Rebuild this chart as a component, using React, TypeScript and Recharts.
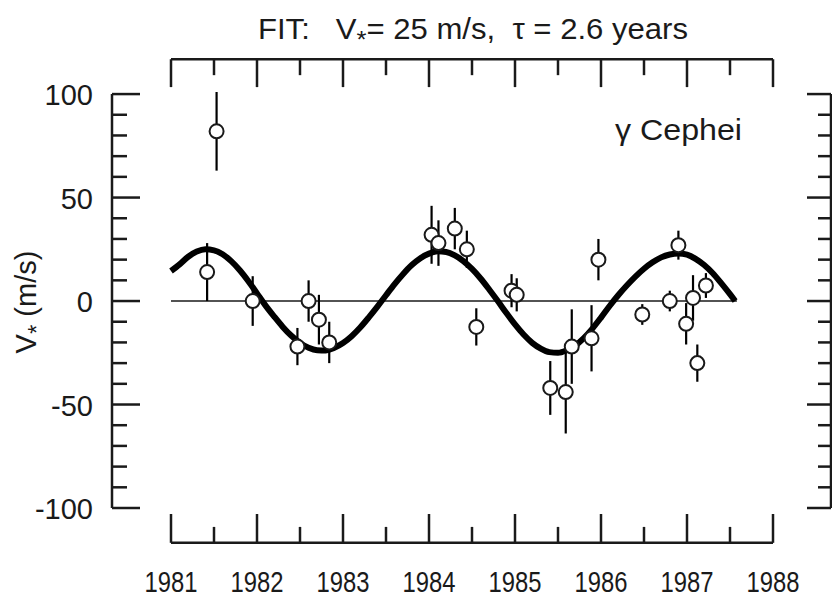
import {
  ComposedChart,
  Line,
  Scatter,
  ErrorBar,
  XAxis,
  YAxis,
  ReferenceLine,
} from "recharts";

// measured radial velocities (year, V*, 1-sigma error)
const OBS_YEARS = [
  1981.42, 1981.53, 1981.95, 1982.47, 1982.6, 1982.72, 1982.84, 1984.03, 1984.11,
  1984.3, 1984.44, 1984.55, 1984.96, 1985.02, 1985.41, 1985.59, 1985.66, 1985.89,
  1985.97, 1986.48, 1986.8, 1986.9, 1986.99, 1987.07, 1987.12, 1987.22,
];
const OBS_V = [
  14, 82, 0, -22, 0, -9, -20, 32, 28, 35, 25, -12.5, 5, 3, -42, -44, -22, -18, 20,
  -6.5, 0, 27, -11, 1.5, -30, 7.5,
];
const OBS_ERR = [
  14, 19, 12, 9, 10, 12, 10, 14, 11, 10, 9, 9, 8, 8, 13, 20, 18, 16, 10, 5, 5, 7,
  10, 11, 9, 6,
];

// fitted curve
const FIT_YEARS = [
  1981.0, 1981.1, 1981.2, 1981.3, 1981.4, 1981.5, 1981.6, 1981.7, 1981.8, 1981.9,
  1982.0, 1982.1, 1982.2, 1982.3, 1982.4, 1982.5, 1982.6, 1982.7, 1982.8, 1982.9,
  1983.0, 1983.1, 1983.2, 1983.3, 1983.4, 1983.5, 1983.6, 1983.7, 1983.8, 1983.9,
  1984.0, 1984.1, 1984.2, 1984.3, 1984.4, 1984.5, 1984.6, 1984.7, 1984.8, 1984.9,
  1985.0, 1985.1, 1985.2, 1985.3, 1985.4, 1985.5, 1985.6, 1985.7, 1985.8, 1985.9,
  1986.0, 1986.1, 1986.2, 1986.3, 1986.4, 1986.5, 1986.6, 1986.7, 1986.8, 1986.9,
  1987.0, 1987.1, 1987.2, 1987.3, 1987.4, 1987.5, 1987.56,
];
const FIT_V = [
  14.5, 17.7, 21.4, 23.9, 25, 24.5, 22.6, 19.3, 14.9, 9.6,
  3.7, -2.2, -7.5, -12.5, -16.8, -20.2, -22.6, -23.8, -23.9, -22.6,
  -20.3, -17, -12.8, -7.9, -2.7, 2.8, 8.2, 13.1, 17.4, 20.7,
  22.9, 24, 23.7, 22.1, 19.3, 15.5, 10.9, 5.6, 0, -5.8,
  -11.3, -16.2, -20.2, -23, -24.7, -25, -23.8, -21.5, -17.9, -13.3,
  -8, -2.4, 2.8, 7.5, 11.8, 15.6, 18.7, 21.1, 22.5, 23,
  22.4, 20.4, 17.4, 13.4, 8.5, 3.3, 0,
];

const X_MAJOR = [1981, 1982, 1983, 1984, 1985, 1986, 1987, 1988];
const X_MINOR = [1981.5, 1982.5, 1983.5, 1984.5, 1985.5, 1986.5, 1987.5];
const Y_MAJOR = [-100, -50, 0, 50, 100];
const Y_MINOR = [-90, -80, -70, -60, -40, -30, -20, -10, 10, 20, 30, 40, 60, 70, 80, 90];
const ZERO_LINE_END = 1987.58;

const X_DOMAIN = [1981, 1988];
const Y_DOMAIN = [-100, 100];

const W = 832;
const H = 599;
const PLOT_LEFT = 171;
const PLOT_TOP = 92;
const PLOT_W = 602;
const PLOT_H = 416;

const FONT = "'Liberation Sans Narrow', 'Arial Narrow', 'Nimbus Sans Narrow', 'Liberation Sans', Arial, sans-serif";
const INK = "#1a1a1a";

const obsData = OBS_YEARS.map((year, i) => ({ year, v: OBS_V[i], err: OBS_ERR[i] }));
const fitData = FIT_YEARS.map((year, i) => ({ year, v: FIT_V[i] }));

// detached frame: convert pixel gaps to data units so the library scales place it
const px2x = (px: number) => (px * (X_DOMAIN[1] - X_DOMAIN[0])) / PLOT_W;
const px2y = (px: number) => (px * (Y_DOMAIN[1] - Y_DOMAIN[0])) / PLOT_H;
const LEFT_X = X_DOMAIN[0] - px2x(59);
const RIGHT_X = X_DOMAIN[1] + px2x(58);
const TOP_Y = Y_DOMAIN[1] + px2y(35);
const BOTTOM_Y = Y_DOMAIN[0] - px2y(35);

type Seg = [number, number, number, number];
const frame: Seg[] = [
  [X_DOMAIN[0], TOP_Y, X_DOMAIN[1], TOP_Y],
  [X_DOMAIN[0], BOTTOM_Y, X_DOMAIN[1], BOTTOM_Y],
  [LEFT_X, Y_DOMAIN[0], LEFT_X, Y_DOMAIN[1]],
  [RIGHT_X, Y_DOMAIN[0], RIGHT_X, Y_DOMAIN[1]],
];
X_MAJOR.forEach((x) => {
  frame.push([x, TOP_Y, x, TOP_Y - px2y(28)]);
  frame.push([x, BOTTOM_Y, x, BOTTOM_Y + px2y(29)]);
});
X_MINOR.forEach((x) => {
  frame.push([x, TOP_Y, x, TOP_Y - px2y(16)]);
  frame.push([x, BOTTOM_Y, x, BOTTOM_Y + px2y(16)]);
});
Y_MAJOR.forEach((y) => {
  frame.push([LEFT_X, y, LEFT_X + px2x(28), y]);
  frame.push([RIGHT_X, y, RIGHT_X - px2x(24), y]);
});
Y_MINOR.forEach((y) => {
  frame.push([LEFT_X, y, LEFT_X + px2x(15), y]);
  frame.push([RIGHT_X, y, RIGHT_X - px2x(13), y]);
});

const XTick = (props: any) => (
  <text
    x={props.x}
    y={592}
    textAnchor="middle"
    fontSize={29}
    fontFamily={FONT}
    fill={INK}
    textLength={53}
    lengthAdjust="spacingAndGlyphs"
  >
    {props.payload.value}
  </text>
);

const YTick = (props: any) => (
  <text x={93} y={props.y + 11} textAnchor="end" fontSize={29} fontFamily={FONT} fill={INK}>
    {props.payload.value}
  </text>
);

const OpenCircle = (props: any) => (
  <circle cx={props.cx} cy={props.cy} r={7} fill="#fff" stroke={INK} strokeWidth={2} />
);

export default function App() {
  return (
    <div style={{ position: "absolute", left: 0, top: 0, width: W, height: H, background: "#fff" }}>
      <ComposedChart
        width={W}
        height={H}
        margin={{ top: PLOT_TOP, right: W - PLOT_LEFT - PLOT_W, left: 0, bottom: 0 }}
      >
        <XAxis
          type="number"
          dataKey="year"
          domain={X_DOMAIN}
          ticks={X_MAJOR}
          interval={0}
          axisLine={false}
          tickLine={false}
          tickSize={0}
          height={H - PLOT_TOP - PLOT_H}
          tick={<XTick />}
        />
        <YAxis
          type="number"
          domain={Y_DOMAIN}
          ticks={Y_MAJOR}
          interval={0}
          axisLine={false}
          tickLine={false}
          tickSize={0}
          width={PLOT_LEFT}
          tick={<YTick />}
        />
        {frame.map(([x1, y1, x2, y2], i) => (
          <ReferenceLine
            key={`f${i}`}
            segment={[{ x: x1, y: y1 }, { x: x2, y: y2 }]}
            ifOverflow="visible"
            stroke={INK}
            strokeWidth={2.5}
          />
        ))}
        <ReferenceLine
          segment={[{ x: X_DOMAIN[0], y: 0 }, { x: ZERO_LINE_END, y: 0 }]}
          ifOverflow="visible"
          stroke={INK}
          strokeWidth={1.5}
        />
        <Line
          data={fitData}
          dataKey="v"
          type="monotone"
          stroke="#000"
          strokeWidth={6}
          dot={false}
          activeDot={false}
          isAnimationActive={false}
        />
        <Scatter data={obsData} dataKey="v" shape={<OpenCircle />} isAnimationActive={false}>
          <ErrorBar dataKey="err" direction="y" width={0} stroke="#000" strokeWidth={2.2} isAnimationActive={false} />
        </Scatter>
      </ComposedChart>
      <svg
        width={W}
        height={H}
        style={{ position: "absolute", left: 0, top: 0, pointerEvents: "none" }}
      >
        <text
          x={258}
          y={39}
          fontSize={29}
          fontFamily={FONT}
          fill={INK}
          textLength={430}
          lengthAdjust="spacingAndGlyphs"
          style={{ whiteSpace: "pre" }}
        >
          {"FIT:   V"}
          <tspan fontSize={24} dy={9}>*</tspan>
          <tspan dy={-9}>{"= 25 m/s,  τ = 2.6 years"}</tspan>
        </text>
        <text
          transform="rotate(-90 36 302)"
          x={36}
          y={302}
          textAnchor="middle"
          fontSize={29}
          fontFamily={FONT}
          fill={INK}
          style={{ whiteSpace: "pre" }}
        >
          V<tspan fontSize={24} dy={9}>*</tspan>
          <tspan dy={-9}>{" (m/s)"}</tspan>
        </text>
        <text
          x={615}
          y={140}
          fontSize={29}
          fontFamily={FONT}
          fill={INK}
          textLength={127}
          lengthAdjust="spacingAndGlyphs"
          style={{ whiteSpace: "pre" }}
        >
          {"γ Cephei"}
        </text>
      </svg>
    </div>
  );
}
